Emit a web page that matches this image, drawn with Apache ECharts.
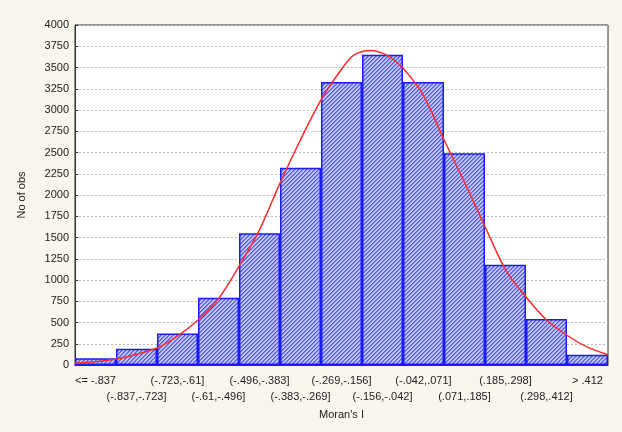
<!DOCTYPE html>
<html><head><meta charset="utf-8">
<script src="https://cdn.jsdelivr.net/npm/echarts@6/dist/echarts.min.js"></script>
<style>html,body{margin:0;padding:0;background:#faf6ee;}#c{width:622px;height:432px;}</style>
</head><body><div id="c"></div>
<script>
const categories = ['<= -.837','(-.837,-.723]','(-.723,-.61]','(-.61,-.496]','(-.496,-.383]','(-.383,-.269]','(-.269,-.156]','(-.156,-.042]','(-.042,.071]','(.071,.185]','(.185,.298]','(.298,.412]','> .412'];
const counts = [80, 190, 370, 790, 1550, 2320, 3330, 3650, 3330, 2490, 1180, 540, 120];
const curveX = [0, 1, 2, 2.5, 3, 3.5, 4, 4.5, 5, 5.5, 6, 6.5, 6.8, 7.2, 7.6, 8, 8.5, 9, 9.5, 10, 10.5, 11, 11.5, 12, 12.5, 13];
const curveY = [20, 70, 200, 340, 530, 780, 1160, 1590, 2140, 2650, 3120, 3480, 3645, 3700, 3645, 3490, 3170, 2650, 2150, 1630, 1120, 800, 530, 350, 210, 120];
const yTicks = {min: 0, max: 4000, interval: 250};

const tile = document.createElement('canvas');
tile.width = 4; tile.height = 4;
const g = tile.getContext('2d');
g.fillStyle = '#c2c6fa'; g.fillRect(0,0,4,4);
g.fillStyle = '#4f58ee';
for (let x = 0; x < 4; x++) for (let y = 0; y < 4; y++) {
  if ((x + y) % 4 === 3) g.fillRect(x, y, 1, 1);
}
g.fillStyle = '#7c83f3';
for (let x = 0; x < 4; x++) for (let y = 0; y < 4; y++) {
  if ((x + y) % 4 === 0) g.fillRect(x, y, 1, 1);
}

const font = 'Liberation Sans, Arial';
const chart = echarts.init(document.getElementById('c'));
chart.setOption({
  backgroundColor: '#faf6ee',
  animation: false,
  grid: {left: 75, right: 14, top: 25, bottom: 67, show: true, backgroundColor: '#ffffff', borderColor: '#333', borderWidth: 1},
  xAxis: [{
    type: 'category', data: categories, boundaryGap: true,
    axisLine: {lineStyle: {color: '#333'}}, axisTick: {show: false},
    axisLabel: {interval: 0, color: '#222', fontSize: 11, fontFamily: font, margin: 8, lineHeight: 16,
      formatter: function (v, i) { return i % 2 === 1 ? '\n' + v : v + '\n'; }},
    name: "Moran's I", nameLocation: 'middle', nameGap: 33,
    nameTextStyle: {color: '#222', fontSize: 11, fontFamily: font}
  }, {
    type: 'value', min: 0, max: 13, show: false
  }],
  yAxis: {
    type: 'value', min: yTicks.min, max: yTicks.max, interval: yTicks.interval,
    axisLine: {show: true, lineStyle: {color: '#333'}},
    axisTick: {show: true, inside: true, length: 3, lineStyle: {color: '#333'}},
    axisLabel: {color: '#222', fontSize: 11, fontFamily: font, margin: 6, formatter: v => String(v)},
    splitLine: {show: true, lineStyle: {color: '#bbb', type: [2, 2], width: 1}},
    name: 'No of obs', nameLocation: 'middle', nameGap: 48, nameRotate: 90,
    nameTextStyle: {color: '#222', fontSize: 11, fontFamily: font}
  },
  series: [{
    type: 'bar', data: counts, barCategoryGap: '0%', xAxisIndex: 0,
    itemStyle: {color: {image: tile, repeat: 'repeat'}, borderColor: '#1a1aff', borderWidth: 1.5}
  }, {
    type: 'line', xAxisIndex: 1, smooth: 0.3, showSymbol: false,
    data: curveX.map((x, i) => [x, curveY[i]]),
    lineStyle: {color: '#ff2a2a', width: 1.5}, z: 5
  }]
});
</script></body></html>
